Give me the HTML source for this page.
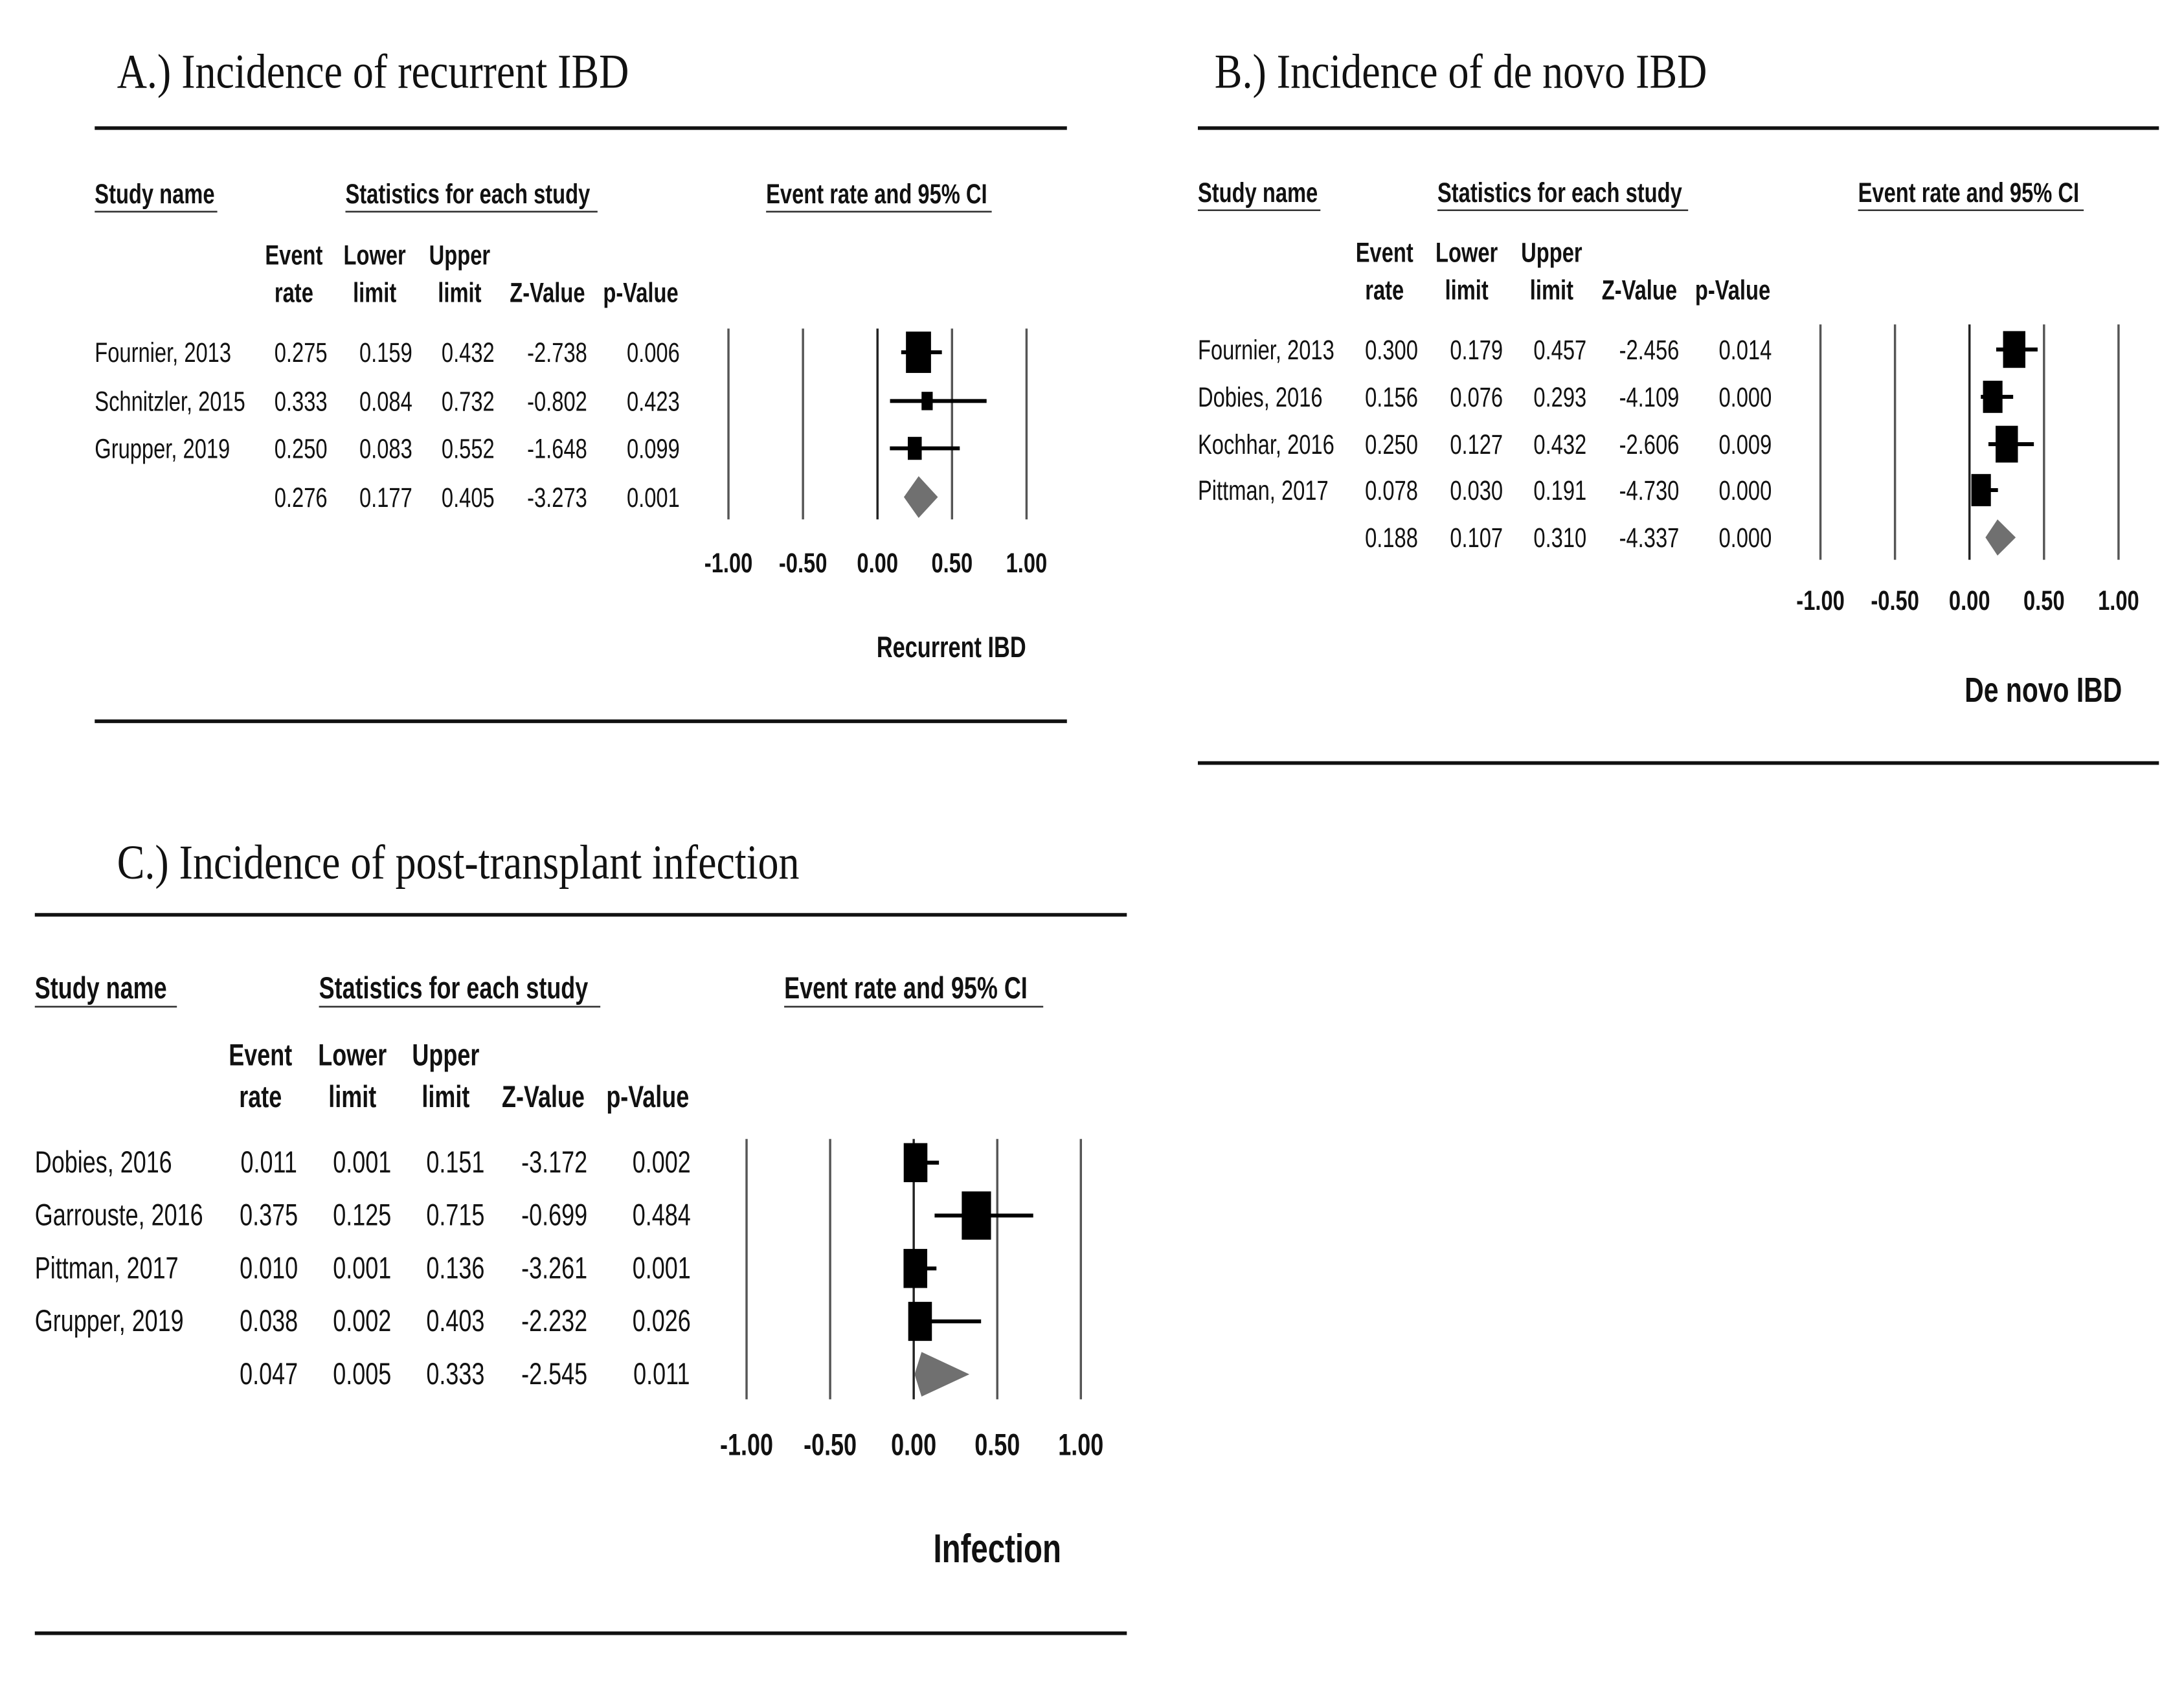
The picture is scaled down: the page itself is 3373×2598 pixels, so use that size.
<!DOCTYPE html>
<html><head><meta charset="utf-8"><style>html,body{margin:0;padding:0;background:#fff}svg{display:block}</style></head>
<body>
<svg id="fig" width="3373" height="2598" viewBox="0 0 1568 1208" preserveAspectRatio="none" xmlns="http://www.w3.org/2000/svg">
<rect width="1568" height="1208" fill="#fff"/>
</svg>
<script>
// Panel A data
const aStudies = ["Fournier, 2013","Schnitzler, 2015","Grupper, 2019"];
const aEst = [0.275,0.333,0.250];
const aLo = [0.159,0.084,0.083];
const aHi = [0.432,0.732,0.552];
const aZ = ["-2.738","-0.802","-1.648"];
const aP = ["0.006","0.423","0.099"];
const aW = [18,8,10];
const aSum = [0.276,0.177,0.405];
const aSumZP = ["-3.273","0.001"];
// Panel B data
const bStudies = ["Fournier, 2013","Dobies, 2016","Kochhar, 2016","Pittman, 2017"];
const bEst = [0.300,0.156,0.250,0.078];
const bLo = [0.179,0.076,0.127,0.030];
const bHi = [0.457,0.293,0.432,0.191];
const bZ = ["-2.456","-4.109","-2.606","-4.730"];
const bP = ["0.014","0.000","0.009","0.000"];
const bW = [16,14,16,14];
const bSum = [0.188,0.107,0.310];
const bSumZP = ["-4.337","0.000"];
// Panel C data
const cStudies = ["Dobies, 2016","Garrouste, 2016","Pittman, 2017","Grupper, 2019"];
const cEst = [0.011,0.375,0.010,0.038];
const cLo = [0.001,0.125,0.001,0.002];
const cHi = [0.151,0.715,0.136,0.403];
const cZ = ["-3.172","-0.699","-3.261","-2.232"];
const cP = ["0.002","0.484","0.001","0.026"];
const cW = [17,21,17,17];
const cSum = [0.047,0.005,0.333];
const cSumZP = ["-2.545","0.011"];
const tickVals = [-1,-0.5,0,0.5,1];
const tickLabels = ["-1.00","-0.50","0.00","0.50","1.00"];

const NS="http://www.w3.org/2000/svg";
const svg=document.getElementById('fig');
function el(tag,attrs,parent){const e=document.createElementNS(NS,tag);for(const k in attrs)e.setAttribute(k,attrs[k]);(parent||svg).appendChild(e);return e;}
function txt(parent,x,y,s,o){o=o||{};
  const g=el('g',{transform:`translate(${x},${y}) scale(${o.sx||0.76},1)`},parent);
  const t=el('text',{x:0,y:0,'font-family':o.serif?'"Liberation Serif",serif':'"Liberation Sans",sans-serif','font-size':o.size||20,'font-weight':o.bold?'bold':'normal','text-anchor':o.anchor||'start',fill:'#111'},g);
  t.textContent=s;return t;}
const f3=v=>v.toFixed(3);

function panel(P){
  const g=el('g',{});
  
  
  const t=txt(g,P.titleX,P.titleY,P.title,{serif:true,size:35,sx:0.85});
  
  el('line',{x1:P.x0,x2:P.x1,y1:P.topY,y2:P.topY,stroke:'#111','stroke-width':2.6},g);
  el('line',{x1:P.x0,x2:P.x1,y1:P.botY,y2:P.botY,stroke:'#111','stroke-width':2.6},g);
  const fs=P.fs;
  P.heads.forEach(h=>{const tt=txt(g,h[0],P.hy,h[2],{bold:true,size:fs});
    
    el('line',{x1:h[0],x2:h[1],y1:P.hy+6,y2:P.hy+6,stroke:'#333','stroke-width':1.2},g);});
  const C=P.cols, CH=P.hcols;
  const ch=[["Event","rate"],["Lower","limit"],["Upper","limit"],["","Z-Value"],["","p-Value"]];
  ch.forEach((c,i)=>{if(c[0])txt(g,CH[i],P.ch1,c[0],{bold:true,size:fs,anchor:'middle'});
    const tt=txt(g,CH[i],P.ch2,c[1],{bold:true,size:fs,anchor:'middle'});
    });
  const X=v=>P.ax0+(v+1)/2*(P.ax1-P.ax0);
  tickVals.forEach((v,i)=>{
    const ln=el('line',{x1:X(v),x2:X(v),y1:P.ly0,y2:P.ly1,stroke:v===0?'#222':'#555','stroke-width':1.6},g);
    
    const tl=txt(g,X(v),P.tickY,tickLabels[i],{bold:true,size:P.tfs,anchor:'middle'});
    });
  P.studies.forEach((s,i)=>{
    const y=P.rows[i];
    const n=txt(g,P.x0,y+7,s,{size:fs});
    [f3(P.est[i]),f3(P.lo[i]),f3(P.hi[i]),P.z[i],P.p[i]].forEach((v,j)=>txt(g,C[j],y+7,v,{size:fs,anchor:'middle'}));
    const ci=el('line',{x1:X(P.lo[i]),x2:X(P.hi[i]),y1:y,y2:y,stroke:'#000','stroke-width':2.8},g);
    
    const w=P.w[i], h=w*1.65;
    const sq=el('rect',{x:X(P.est[i])-w/2,y:y-h/2,width:w,height:h,fill:'#000'},g);
    
  });
  const ys=P.rows[P.studies.length];
  [f3(P.sum[0]),f3(P.sum[1]),f3(P.sum[2]),P.sumZP[0],P.sumZP[1]].forEach((v,j)=>txt(g,C[j],ys+7,v,{size:fs,anchor:'middle'}));
  const h=P.dh;
  const d=el('polygon',{points:`${X(P.sum[1])},${ys} ${X(P.sum[0])},${ys-h} ${X(P.sum[2])},${ys} ${X(P.sum[0])},${ys+h}`,fill:'#707070'},g);
  
  const al=txt(g,P.alX,P.alY,P.axisLabel,{bold:true,size:P.afs,anchor:'middle'});
  
}

panel({name:'panel-a-recurrent-ibd',title:'A.) Incidence of recurrent IBD',titleX:84,titleY:63,x0:68,x1:766,topY:92,botY:518,
  fs:20,tfs:20,hy:146,heads:[[68,156,'Study name'],[248,429,'Statistics for each study'],[550,712,'Event rate and 95% CI']],
  cols:[216,277,336,400,469],hcols:[211,269,330,393,460],ch1:190,ch2:217,ax0:523,ax1:737,ly0:236,ly1:373,tickY:411,
  studies:aStudies,est:aEst,lo:aLo,hi:aHi,z:aZ,p:aP,w:aW,sum:aSum,sumZP:aSumZP,rows:[253,288,322,357],dh:15,
  axisLabel:'Recurrent IBD',alX:683,alY:472,afs:21});
panel({name:'panel-b-de-novo-ibd',title:'B.) Incidence of de novo IBD',titleX:872,titleY:63,x0:860,x1:1550,topY:92,botY:548,
  fs:20,tfs:20,hy:145,heads:[[860,948,'Study name'],[1032,1212,'Statistics for each study'],[1334,1496,'Event rate and 95% CI']],
  cols:[999,1060,1120,1184,1253],hcols:[994,1053,1114,1177,1244],ch1:188,ch2:215,ax0:1307,ax1:1521,ly0:233,ly1:402,tickY:438,
  studies:bStudies,est:bEst,lo:bLo,hi:bHi,z:bZ,p:bP,w:bW,sum:bSum,sumZP:bSumZP,rows:[251,285,319,352,386],dh:13,
  axisLabel:'De novo IBD',alX:1467,alY:504,afs:25});
panel({name:'panel-c-infection',title:'C.) Incidence of post-transplant infection',titleX:84,titleY:631,x0:25,x1:809,topY:657,botY:1173,
  fs:22,tfs:22,hy:717,heads:[[25,127,'Study name'],[229,431,'Statistics for each study'],[563,749,'Event rate and 95% CI']],
  cols:[193,260,327,398,475],hcols:[187,253,320,390,465],ch1:765,ch2:795,ax0:536,ax1:776,ly0:818,ly1:1005,tickY:1045,
  studies:cStudies,est:cEst,lo:cLo,hi:cHi,z:cZ,p:cP,w:cW,sum:cSum,sumZP:cSumZP,rows:[835,873,911,949,987],dh:16,
  axisLabel:'Infection',alX:716,alY:1122,afs:29});
</script>
</body></html>
